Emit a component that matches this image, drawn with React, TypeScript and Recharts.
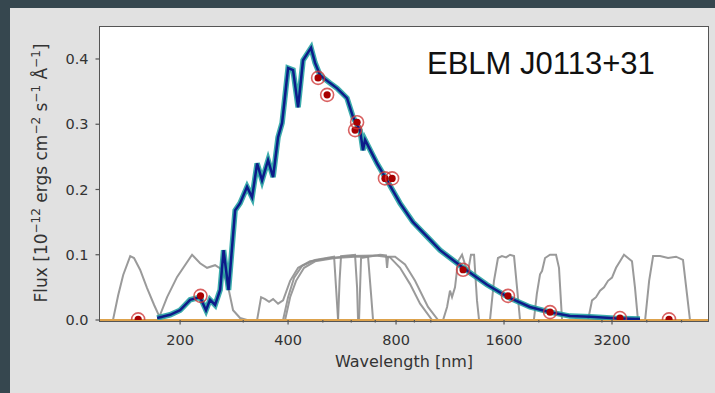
import React from "react";
import { ComposedChart, Line, Scatter, XAxis, YAxis, ReferenceLine } from "recharts";

// model SED, wavelength in nm, flux in 1e-12 erg/cm2/s/A
const sedWl = [172.6, 187.6, 200, 213.3, 227.4, 236.2, 242.4, 250.4, 258.6, 264.4, 273, 284.7, 294, 307.4, 317.5, 327.9, 338.5, 351.8, 363.3, 375.1, 384.9, 400, 413, 426.6, 440.4, 454.8, 463.6, 475.7, 491.2, 523.8, 548, 584, 607, 635, 647, 655.6, 708, 755, 820.6, 892, 995, 1061, 1230, 1435, 1641, 1890, 2150, 2444, 2778, 3262, 3830];
const sedFlux = [0.003, 0.008, 0.015, 0.031, 0.035, 0.015, 0.031, 0.023, 0.046, 0.107, 0.046, 0.168, 0.179, 0.204, 0.188, 0.24, 0.214, 0.245, 0.219, 0.28, 0.302, 0.386, 0.383, 0.326, 0.398, 0.41, 0.417, 0.394, 0.375, 0.363, 0.355, 0.34, 0.311, 0.291, 0.26, 0.276, 0.24, 0.214, 0.179, 0.15, 0.123, 0.107, 0.08, 0.054, 0.035, 0.02, 0.012, 0.006, 0.005, 0.0025, 0.0015];

// photometry
const photWl = [152.8, 228, 485, 514, 615, 623, 745, 780, 1230, 1641, 2150, 3368, 4614];
const photFlux = [0.001, 0.037, 0.371, 0.345, 0.291, 0.303, 0.217, 0.217, 0.077, 0.037, 0.012, 0.003, 0.001];

// filter transmission curves (scaled)
const fuvWl = [130, 134.4, 138.8, 145.2, 148.8, 154.7, 161.8, 169.3, 175.9, 179.3];
const fuvT = [0, 0.038, 0.069, 0.098, 0.095, 0.077, 0.049, 0.023, 0.003, 0];
const nuvWl = [173.6, 184, 196.2, 216, 227.4, 237.8, 250.4, 261.9, 272.2, 281, 294, 307.4];
const nuvT = [0, 0.035, 0.066, 0.1, 0.087, 0.08, 0.084, 0.077, 0.051, 0.015, 0.003, 0];
const gWl = [327.9, 336.4, 345.1, 354.1, 363.3, 375.1, 387.4, 405.3, 426.6, 460.7, 523.8, 595.5, 699.2, 769.6, 820.8, 875.4, 933.4, 1008];
const gT = [0, 0.035, 0.032, 0.028, 0.032, 0.025, 0.03, 0.06, 0.08, 0.09, 0.095, 0.098, 0.099, 0.096, 0.08, 0.055, 0.025, 0];
const bpWl = [392.4, 405.3, 421, 443.3, 475.7, 540.8, 614.8, 668.4, 681.3, 690.2];
const bpT = [0, 0.035, 0.06, 0.08, 0.09, 0.095, 0.097, 0.097, 0.04, 0];
const bWl = [387.4, 400, 415.8, 437.7, 475.7, 537.5, 544.2, 551.4];
const bT = [0, 0.035, 0.065, 0.083, 0.092, 0.097, 0.05, 0];
const rWl = [551.4, 556.7, 562, 614.8, 622.9, 626.8];
const rT = [0, 0.06, 0.098, 0.1, 0.05, 0];
const rpWl = [630.8, 639, 722, 750.2, 755.2, 760.1, 795, 847.4, 903.8, 982.2, 1047.6];
const rpT = [0, 0.095, 0.1, 0.099, 0.08, 0.097, 0.097, 0.085, 0.06, 0.02, 0];
const jWl = [1082, 1110, 1131, 1146, 1168, 1191, 1222, 1246, 1270, 1294, 1320, 1345, 1363];
const jT = [0, 0.02, 0.045, 0.035, 0.05, 0.09, 0.1, 0.085, 0.075, 0.1, 0.1, 0.03, 0];
const hWl = [1462, 1500, 1539, 1579, 1621, 1663, 1706, 1739, 1773];
const hT = [0, 0.06, 0.095, 0.098, 0.096, 0.1, 0.098, 0.05, 0];
const ksWl = [1938, 1975, 2016, 2042, 2082, 2150, 2234, 2277, 2322];
const ksT = [0, 0.04, 0.07, 0.075, 0.095, 0.1, 0.1, 0.08, 0];
const w1Wl = [2744, 2815, 2888, 2963, 3040, 3119, 3200, 3284, 3369, 3456, 3546, 3638, 3708, 3780];
const w1T = [0, 0.03, 0.035, 0.045, 0.05, 0.06, 0.065, 0.08, 0.09, 0.1, 0.095, 0.09, 0.05, 0];
const w2Wl = [3958, 4061, 4166, 4356, 4586, 4826, 5047, 5177, 5279];
const w2T = [0, 0.06, 0.098, 0.098, 0.095, 0.097, 0.092, 0.04, 0];

const majorTicks = [200, 400, 800, 1600, 3200];
const minorTicks = [300, 500, 600, 700, 900, 1000, 2000, 3000, 4000, 5000];
const yTicks = [0, 0.1, 0.2, 0.3, 0.4];

const toPoints = (wl: number[], f: number[]) => wl.map((w, i) => ({ wl: w, flux: f[i] }));

const sed = toPoints(sedWl, sedFlux);
const phot = toPoints(photWl, photFlux);
const filters = [
  toPoints(fuvWl, fuvT),
  toPoints(nuvWl, nuvT),
  toPoints(gWl, gT),
  toPoints(bWl, bT),
  toPoints(bpWl, bpT),
  toPoints(rWl, rT),
  toPoints(rpWl, rpT),
  toPoints(jWl, jT),
  toPoints(hWl, hT),
  toPoints(ksWl, ksT),
  toPoints(w1Wl, w1T),
  toPoints(w2Wl, w2T),
];

const FONT = "DejaVu Sans, Verdana, sans-serif";

function WavelengthTick(props: any) {
  const { x, y, payload } = props;
  const base = y - 8;
  const major = majorTicks.includes(payload.value);
  return (
    <g>
      <line x1={x} x2={x} y1={base} y2={base + (major ? 4.5 : 2.5)} stroke="#555" strokeWidth={1.2} />
      {major && (
        <text x={x} y={base + 25} textAnchor="middle" fill="#333" fontSize={14.5} fontFamily={FONT}>
          {payload.value}
        </text>
      )}
    </g>
  );
}

function FluxLabel() {
  const cx = 42;
  const cy = 173;
  return (
    <text
      x={cx}
      y={cy}
      transform={`rotate(-90 ${cx} ${cy})`}
      textAnchor="middle"
      dominantBaseline="middle"
      fill="#333"
      fontSize={17}
      fontFamily={FONT}
    >
      Flux [10<tspan dy={-6} fontSize={12}>−12</tspan>
      <tspan dy={6}> ergs cm</tspan>
      <tspan dy={-6} fontSize={12}>−2</tspan>
      <tspan dy={6}> s</tspan>
      <tspan dy={-6} fontSize={12}>−1</tspan>
      <tspan dy={6}> Å</tspan>
      <tspan dy={-6} fontSize={12}>−1</tspan>
      <tspan dy={6}>]</tspan>
    </text>
  );
}

function WavelengthLabel() {
  return (
    <text x={404} y={367} textAnchor="middle" fill="#333" fontSize={16} fontFamily={FONT}>
      Wavelength [nm]
    </text>
  );
}

function PhotPoint(props: any) {
  const { cx, cy } = props;
  return (
    <g>
      <circle cx={cx} cy={cy} r={6.5} fill="none" stroke="#d03a3a" strokeWidth={1.6} opacity={0.8} />
      <circle cx={cx} cy={cy} r={3.6} fill="#a80000" />
    </g>
  );
}

export default function App() {
  return (
    <div style={{ position: "fixed", left: 0, top: 0, width: 715, height: 393, background: "#36474f" }}>
      <div style={{ position: "absolute", left: 10, top: 8, right: 0, bottom: 0, background: "#e1e1e1" }} />
      <div
        style={{
          position: "absolute",
          left: 99,
          top: 26,
          width: 610,
          height: 296,
          background: "#fff",
          border: "1.5px solid #555",
          boxSizing: "border-box",
        }}
      />
      <div style={{ position: "absolute", left: 0, top: 0 }}>
        <ComposedChart width={715} height={393} margin={{ top: 27, right: 7, bottom: 37, left: 40 }}>
          <XAxis
            type="number"
            dataKey="wl"
            scale="log"
            domain={[119.6, 5926]}
            allowDataOverflow
            ticks={[...majorTicks, ...minorTicks]}
            tick={<WavelengthTick />}
            tickLine={false}
            axisLine={false}
            tickSize={4}
            tickMargin={4}
            height={36}
            interval={0}
            label={<WavelengthLabel />}
          />
          <YAxis
            type="number"
            dataKey="flux"
            domain={[0, 0.449]}
            allowDataOverflow
            ticks={yTicks}
            tickFormatter={(v: number) => v.toFixed(1)}
            tick={{ fill: "#333", fontSize: 14.5, fontFamily: FONT }}
            tickLine={{ stroke: "#555", strokeWidth: 1.2 }}
            tickSize={4.5}
            tickMargin={7}
            axisLine={false}
            width={60}
            label={<FluxLabel />}
          />
          {filters.map((f, i) => (
            <Line
              key={i}
              data={f}
              dataKey="flux"
              type="linear"
              stroke="#8f8f8f"
              strokeWidth={2}
              strokeOpacity={0.9}
              dot={false}
              isAnimationActive={false}
            />
          ))}
          <ReferenceLine y={0} stroke="#dda24c" strokeWidth={2} />
          <Line data={sed} dataKey="flux" type="linear" stroke="#1a9e9e" strokeWidth={5.5} strokeOpacity={0.85} dot={false} isAnimationActive={false} />
          <Line data={sed} dataKey="flux" type="linear" stroke="#0d1b8a" strokeWidth={2.5} dot={false} isAnimationActive={false} />
          <Scatter data={phot} dataKey="flux" shape={<PhotPoint />} isAnimationActive={false} />
        </ComposedChart>
      </div>
      <svg width={715} height={393} style={{ position: "absolute", left: 0, top: 0, pointerEvents: "none" }}>
        <text x={427} y={74} fontSize={31} fontFamily="Liberation Sans, Arial, sans-serif" fill="#111">
          EBLM J0113+31
        </text>
      </svg>
    </div>
  );
}
